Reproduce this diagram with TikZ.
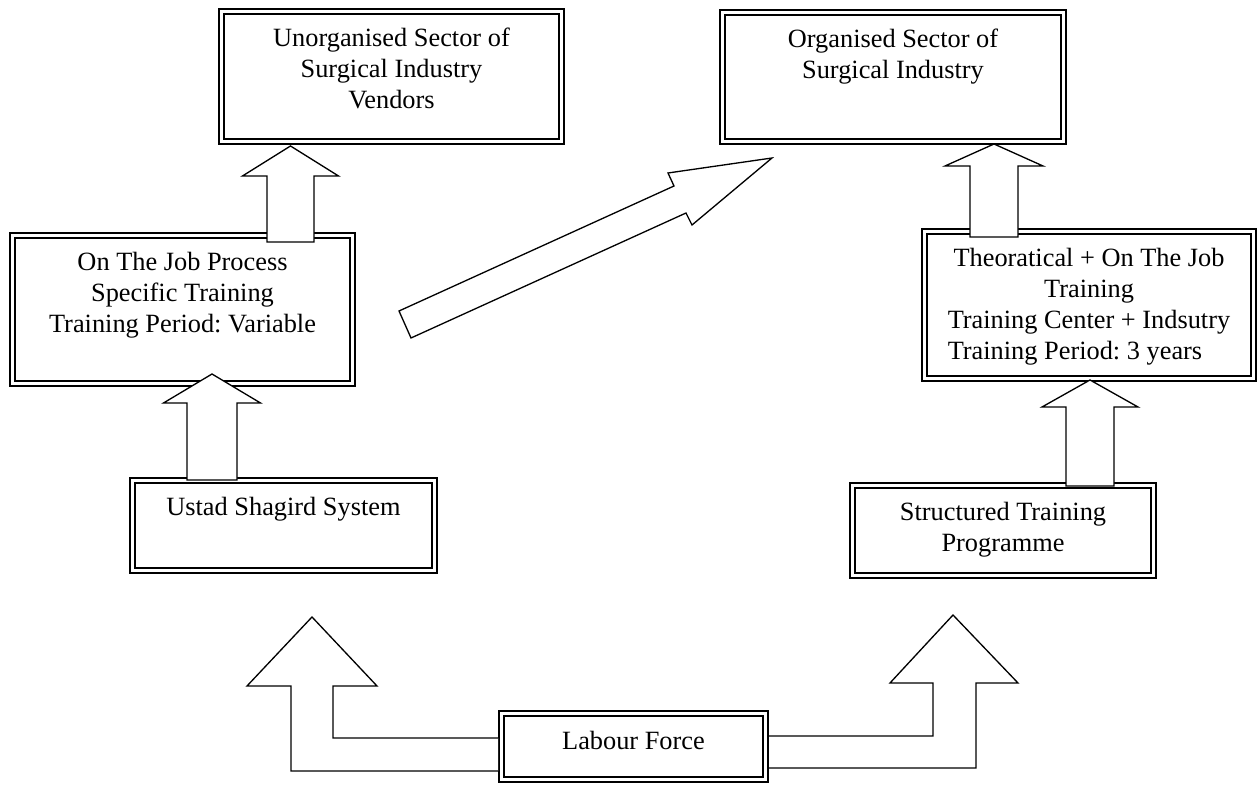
\documentclass[tikz,border=0pt]{standalone}
\usepackage{fontspec}
\setmainfont{Liberation Serif}
\usepackage{calc}
\usetikzlibrary{calc}
\frenchspacing
\newlength{\px}
\setlength{\px}{0.016cm}
% text of a box: width, height (in px), lines
\newcommand{\boxtext}[3]{\parbox[c][#2\px][t]{#1\px}{\centering\rule{0pt}{35.7\px}#3}}
% upward block arrow: x, tip, head base, tail, half head, half shaft
\newcommand{\blockup}[6]{%
  \draw[barrow] (#1,#2) -- (#1+#5,#3) -- (#1+#6,#3) -- (#1+#6,#4)
    -- (#1-#6,#4) -- (#1-#6,#3) -- (#1-#5,#3) -- cycle;}

\begin{document}
\begin{tikzpicture}[x=0.016cm, y=-0.016cm,
  dbox/.style={draw, double, double distance=1.2pt, line width=1pt, fill=white,
    inner sep=0pt, font=\fontsize{12}{14.1}\selectfont},
  barrow/.style={draw, fill=white, line width=0.6pt, line join=miter}]
  \useasboundingbox (0,0) rectangle (1258,785);

  % boxes
  \node[dbox] (unorg) at (391.5,76.5) {\boxtext{340.4}{130.4}{Unorganised Sector of\\ Surgical Industry\\ Vendors}};
  \node[dbox] (org) at (893,77) {\boxtext{341.4}{129.4}{Organised Sector of\\ Surgical Industry}};
  \node[dbox] (onjob) at (182.5,309.5) {\boxtext{340.4}{148.4}{On The Job Process\\ Specific Training\\ Training Period: Variable}};
  \node[dbox] (theory) at (1089,305) {\boxtext{329.4}{147.4}{Theoratical + On The Job\\ Training\\ Training Center + Indsutry\\
    \makebox[\widthof{Training Center + Indsutry}][l]{Training Period: 3 years}}};
  \node[dbox] (ustad) at (283.5,525.5) {\boxtext{302.4}{90.4}{Ustad Shagird System}};
  \node[dbox] (struct) at (1003,530.5) {\boxtext{301.4}{90.4}{Structured Training\\ Programme}};
  \node[dbox] (labour) at (633.5,746.5) {\boxtext{264.4}{66.4}{Labour Force}};

  % straight arrows
  \blockup{290.5}{146}{176}{242}{48}{23.5}
  \blockup{212}{374}{403}{480}{48.5}{25}
  \blockup{994}{144}{166}{237}{49}{24}
  \blockup{1090}{380}{407}{486}{48}{24}
  \draw[barrow] (399,311) -- (674,186) -- (668,173) -- (772,158)
    -- (692,225) -- (686,213) -- (411,338) -- cycle;

  % bent arrows out of the labour force
  \draw[barrow] (498,738) -- (333,738) -- (333,686) -- (377,686) -- (312,617)
    -- (247,686) -- (291,686) -- (291,771) -- (498,771);
  \draw[barrow] (769,736) -- (933,736) -- (933,683) -- (890,683) -- (953,615)
    -- (1018,683) -- (976,683) -- (976,768) -- (769,768);
\end{tikzpicture}
\end{document}
